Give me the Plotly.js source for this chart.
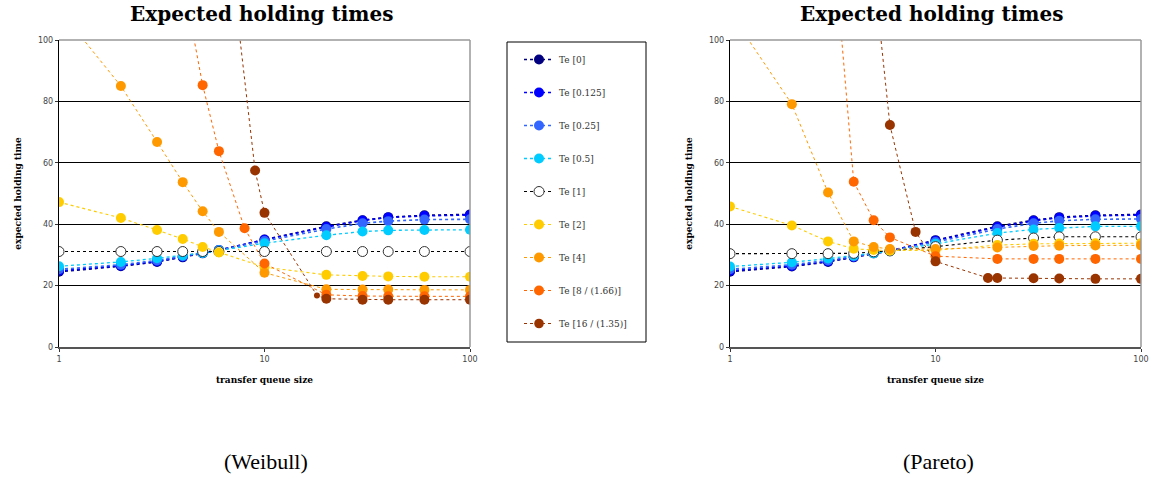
<!DOCTYPE html>
<html>
<head>
<meta charset="utf-8">
<script src="https://cdn.plot.ly/plotly-3.0.1.min.js"></script>
<style>html,body{margin:0;padding:0;background:#fff;}#chart{width:1157px;height:479px;}</style>
</head>
<body>
<div id="chart"></div>
<script>
// ---------- data ----------
const seriesNames = ["Te [0]", "Te [0.125]", "Te [0.25]", "Te [0.5]", "Te [1]", "Te [2]", "Te [4]", "Te [8 / (1.66)]", "Te [16 / (1.35)]"];
const queueSizes = [1, 2, 3, 4, 5, 6, 10, 20, 30, 40, 60, 100];

// Weibull
const wTe0    = [24.5, 26.3, 27.7, 29.2, 30.5, 31.5, 35.0, 39.3, 41.3, 42.3, 42.9, 43.2];
const wTe0125 = [24.8, 26.5, 27.9, 29.4, 30.6, 31.6, 34.9, 39.1, 41.2, 42.2, 42.7, 43.0];
const wTe025  = [25.3, 26.8, 28.2, 29.6, 30.7, 31.6, 34.5, 38.4, 40.3, 41.0, 41.5, 41.6];
const wTe05   = [26.3, 27.7, 28.9, 29.8, 30.6, 31.4, 33.8, 36.4, 37.6, 38.0, 38.1, 38.2];
const wTe1    = [31.1, 31.1, 31.1, 31.1, 31.1, 31.1, 31.1, 31.1, 31.1, 31.1, 31.1, 31.1];
const wTe2    = [47.2, 42.0, 38.1, 35.2, 32.6, 30.8, 26.0, 23.5, 23.1, 23.0, 22.9, 22.9];
const wTe4    = [110, 85.0, 66.8, 53.7, 44.2, 37.5, 24.2, 18.8, 18.7, 18.7, 18.6, 18.6];
const wTe8X   = [4, 5, 6, 8, 10, 20, 30, 40, 60, 100];
const wTe8    = [120, 85.3, 63.8, 38.7, 27.2, 17.0, 16.6, 16.5, 16.5, 16.5];
const wTe16X  = [6, 9, 10, 18, 20, 30, 40, 60, 100];
const wTe16   = [160, 57.5, 43.7, 16.8, 15.7, 15.4, 15.4, 15.4, 15.4];

// Pareto
const pTe0    = [24.5, 26.2, 27.7, 29.2, 30.5, 31.3, 34.8, 39.3, 41.3, 42.3, 42.9, 43.2];
const pTe0125 = [24.8, 26.4, 27.9, 29.3, 30.6, 31.4, 34.6, 39.1, 41.1, 42.1, 42.7, 43.0];
const pTe025  = [25.3, 26.8, 28.2, 29.5, 30.6, 31.3, 34.2, 38.4, 40.3, 41.1, 41.6, 41.7];
const pTe05   = [26.2, 27.6, 28.8, 29.7, 30.5, 31.2, 33.6, 37.1, 38.3, 38.8, 39.3, 39.3];
const pTe1    = [30.4, 30.4, 30.4, 30.5, 31.0, 31.3, 32.7, 34.8, 35.5, 35.9, 35.9, 35.9];
const pTe2    = [45.8, 39.6, 34.4, 32.0, 31.6, 31.4, 31.5, 33.2, 33.6, 33.7, 33.8, 33.8];
const pTe4    = [109, 79.1, 50.3, 34.4, 32.6, 31.9, 31.9, 32.4, 32.9, 33.0, 33.1, 33.1];
const pTe8X   = [3, 4, 5, 6, 10, 20, 30, 40, 60, 100];
const pTe8    = [153, 53.8, 41.3, 35.7, 29.6, 28.7, 28.7, 28.7, 28.7, 28.7];
const pTe16X  = [5, 6, 8, 10, 18, 20, 30, 40, 60, 100];
const pTe16   = [123, 72.3, 37.5, 27.9, 22.5, 22.5, 22.4, 22.3, 22.2, 22.2];

const yTicks = [0, 20, 40, 60, 80, 100];
const xTicks = [1, 10, 100];
const chartTitle = "Expected holding times";
const xTitle = "transfer queue size";
const yTitle = "expected holding time";
const captions = ["(Weibull)", "(Pareto)"];

// ---------- styling ----------
const W = 1157, H = 479;
const colors = ["#000080", "#0000FF", "#3366FF", "#00CCFF", "#000000", "#FFCC00", "#FF9900", "#FF6600", "#993300"];
const lineWidths = [1.6, 1.6, 1.6, 1.3, 1.1, 1.1, 1.0, 1.0, 1.0];

const weibull = [[queueSizes, wTe0], [queueSizes, wTe0125], [queueSizes, wTe025], [queueSizes, wTe05], [queueSizes, wTe1], [queueSizes, wTe2], [queueSizes, wTe4], [wTe8X, wTe8], [wTe16X, wTe16]];
const pareto = [[queueSizes, pTe0], [queueSizes, pTe0125], [queueSizes, pTe025], [queueSizes, pTe05], [queueSizes, pTe1], [queueSizes, pTe2], [queueSizes, pTe4], [pTe8X, pTe8], [pTe16X, pTe16]];

function mk(i, xy, xa, ya, showLegend) {
  const isOpen = (i === 4);
  let size = 10;
  if (showLegend && i === 8) {
    size = xy[0].map(v => v === 18 ? 6 : 10);
  }
  return {
    type: "scatter", mode: "lines+markers",
    x: xy[0], y: xy[1], xaxis: xa, yaxis: ya,
    name: seriesNames[i], legendgroup: "g" + i, showlegend: showLegend,
    line: {color: colors[i], width: lineWidths[i], dash: "dot"},
    marker: {size: size, opacity: 1, color: isOpen ? "#ffffff" : colors[i],
             line: {color: isOpen ? "#333333" : colors[i], width: isOpen ? 1 : 0}},
    hoverinfo: "x+y+name"
  };
}

const traces = [];
weibull.forEach((xy, i) => traces.push(mk(i, xy, "x", "y", true)));
pareto.forEach((xy, i) => traces.push(mk(i, xy, "x2", "y2", false)));

const plots = [{l: 59, r: 470}, {l: 730, r: 1141}];
const plotTop = 40, plotBot = 347;
const yDom = [1 - plotBot / H, 1 - plotTop / H];

function xAxis(p, anchor) {
  return {
    domain: [p.l / W, p.r / W], anchor: anchor, type: "log", range: [0, 2],
    tickvals: xTicks, ticktext: xTicks.map(String),
    ticks: "outside", ticklen: 3, tickcolor: "#333", tickwidth: 1,
    tickfont: {family: "DejaVu Sans", size: 8, color: "#444"},
    showline: true, linecolor: "#555", linewidth: 2, showgrid: false, zeroline: false,
    title: {text: "<b>" + xTitle + "</b>", font: {family: "DejaVu Serif", size: 9, color: "#000"}, standoff: 14},
    fixedrange: true
  };
}
function yAxis(anchor) {
  return {
    domain: yDom, anchor: anchor, range: [0, 100],
    tickvals: yTicks, ticks: "outside", ticklen: 3, tickcolor: "#333",
    tickfont: {family: "DejaVu Sans", size: 8, color: "#444"},
    showline: true, linecolor: "#000", linewidth: 1.2,
    showgrid: true, gridcolor: "#000", gridwidth: 1, zeroline: false,
    title: {text: "<b>" + yTitle + "</b>", font: {family: "DejaVu Serif", size: 9, color: "#000"}, standoff: 14},
    fixedrange: true
  };
}

const shapes = [];
plots.forEach(p => {
  shapes.push({type: "line", xref: "paper", yref: "paper", x0: p.l / W, x1: p.r / W, y0: 1 - plotTop / H, y1: 1 - plotTop / H, line: {color: "#999", width: 1.5}, layer: "above"});
  shapes.push({type: "line", xref: "paper", yref: "paper", x0: p.r / W, x1: p.r / W, y0: 1 - plotTop / H, y1: 1 - plotBot / H, line: {color: "#999", width: 1.5}, layer: "above"});
});
shapes.push({type: "rect", xref: "paper", yref: "paper", x0: 507 / W, x1: 646 / W, y0: 1 - 342 / H, y1: 1 - 42 / H, line: {color: "#000", width: 1}, fillcolor: "rgba(0,0,0,0)"});

const annotations = [];
const titleX = [262, 932];
titleX.forEach(x => annotations.push({xref: "paper", yref: "paper", x: x / W, y: 1 - 14 / H, xanchor: "center", yanchor: "middle", showarrow: false,
  text: "<b>" + chartTitle + "</b>", font: {family: "DejaVu Serif", size: 20, color: "#000"}}));
const capX = [266, 938];
capX.forEach((x, i) => annotations.push({xref: "paper", yref: "paper", x: x / W, y: 1 - 461 / H, xanchor: "center", yanchor: "middle", showarrow: false,
  text: captions[i], font: {family: "Liberation Serif", size: 22, color: "#000"}}));

const layout = {
  width: W, height: H,
  margin: {l: 0, r: 0, t: 0, b: 0},
  paper_bgcolor: "#fff", plot_bgcolor: "#fff",
  xaxis: xAxis(plots[0], "y"), yaxis: yAxis("x"),
  xaxis2: xAxis(plots[1], "y2"), yaxis2: yAxis("x2"),
  showlegend: true,
  legend: {x: 519 / W, y: 1 - 45 / H, xanchor: "left", yanchor: "top",
    bgcolor: "rgba(0,0,0,0)", borderwidth: 0, tracegroupgap: 14,
    font: {family: "DejaVu Serif", size: 9, color: "#333"}},
  shapes: shapes, annotations: annotations
};

Plotly.newPlot("chart", traces, layout, {displayModeBar: false, staticPlot: true});
</script>
</body>
</html>
